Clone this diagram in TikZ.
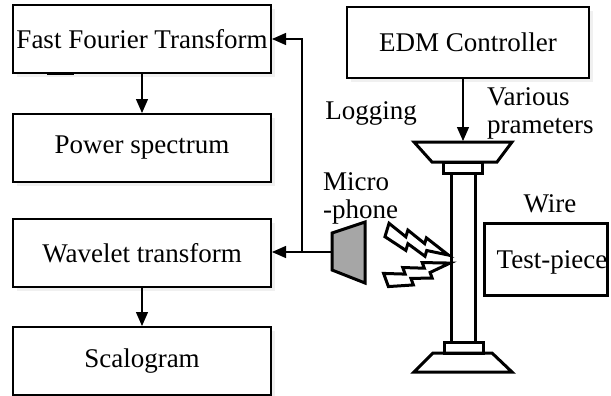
\documentclass[tikz,border=0pt]{standalone}
\usepackage{fontspec}
\setmainfont{Liberation Serif}
\usetikzlibrary{arrows.meta,shadows}
\definecolor{micgray}{RGB}{166,166,166}

\begin{document}
\begin{tikzpicture}[x=0.5pt,y=-0.5pt,
  font=\fontsize{13.5}{14}\selectfont,
  box/.style={draw,line width=1pt,fill=white,inner sep=1pt,
    minimum width=129pt,minimum height=34pt,
    drop shadow={opacity=0.12,shadow xshift=2pt,shadow yshift=-2pt}},
  arrow/.style={line width=0.65pt,-{Triangle[length=7pt,width=6pt]}},
  part/.style={line width=1.5pt}]
\useasboundingbox (0,0) rectangle (611,396);

% signal processing chain
\node[box] (fft) at (142,39) {Fast Fourier Transform};
\node[box] (power) at (142,148) {Power spectrum};
\node[box] (wavelet) at (142,253) {Wavelet transform};
\node[box] (scalo) at (142,361) {Scalogram};
\draw[line width=1.5pt] (47,73) -- (74,73);
\draw[arrow] (fft) -- (power);
\draw[arrow] (wavelet) -- (scalo);

% machine side
\node[box,minimum width=121pt,minimum height=35.5pt] (edm) at (468,42.5) {EDM Controller};
\node[draw,line width=1.5pt,minimum width=61.5pt,minimum height=36pt] (testpiece) at (545.5,259) {};
\node (tplabel) at (552,262) {Test-piece};
\node (wire) at (550,204) {Wire};
\node (logging) at (371,113) {Logging};
\node[anchor=west,align=left] (params) at (480,113) {Various\\prameters};
\node[anchor=west,align=left] (miclabel) at (316,198) {Micro\\-phone};

% wire guide column
\draw[part] (414,142) -- (512,142) -- (497,162) -- (432,162) -- cycle;
\draw[part] (443,162) rectangle (482,173);
\draw[part] (451,173) -- (451,342);
\draw[part] (475,173) -- (475,342);
\draw[part] (444,342) rectangle (483,353);
\draw[part] (433,353) -- (492,353) -- (512,372) -- (414,372) -- cycle;
\coordinate (guide) at (463,141);
\draw[arrow] (edm.south -| guide) -- (guide);

% microphone
\filldraw[part,fill=micgray] (332,233) -- (365,222) -- (365,283) -- (332,270) -- cycle;
\coordinate (mic) at (332,252);
\coordinate (split) at (302,252);
\draw[arrow] (mic) -- (wavelet.east |- mic);
\draw[arrow] (split) |- (fft.east);

% sound bolts
\foreach \sx/\sy/\rot in {387/230/-17, 386/280/20}{
  \begin{scope}[shift={(\sx,\sy)},rotate=\rot]
    \draw[line width=1.5pt,fill=white,line join=miter]
      (0,-7) -- (20,1) -- (20,-6) -- (40,2) -- (40,-4) -- (66,6)
      -- (44,8) -- (44,14) -- (24,7) -- (24,14) -- (0,7) -- cycle;
  \end{scope}
}
\end{tikzpicture}
\end{document}
